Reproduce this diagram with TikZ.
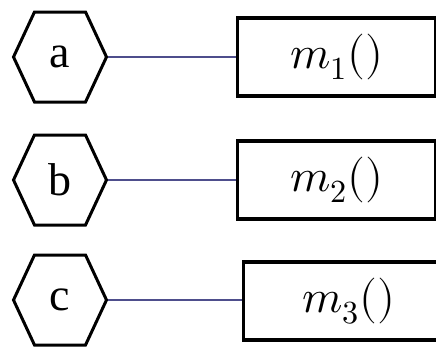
\documentclass[tikz,border=0pt]{standalone}
\usepackage{fontspec}
\usepackage{unicode-math}
\setmainfont{Liberation Serif}
\setmathfont{Latin Modern Math}
\usetikzlibrary{positioning,shapes.symbols}
\definecolor{linkblue}{RGB}{78,78,140}

\begin{document}
\begin{tikzpicture}[x=1pt,y=-1pt,node distance=128pt,
  hexa/.style={signal,signal to=east and west,signal pointer angle=130,
    draw,line width=3pt,minimum width=93pt,minimum height=90pt,inner sep=0pt,
    font=\fontsize{46}{52}\selectfont},
  method/.style={draw,line width=3.2pt,minimum width=198pt,minimum height=78pt,
    font=\fontsize{46}{52}\selectfont},
  link/.style={line width=1.5pt,draw=linkblue}]
  \useasboundingbox (0,0) rectangle (436,346);
  \clip (0,0) rectangle (436,346);

  \node[hexa] (a) at (60,57) {a};
  \node[hexa] (b) at (60,180) {b};
  \node[hexa] (c) at (60,300) {c};

  \node[method,right=of a] (m1) {$m_1()$};
  \node[method,right=of b] (m2) {$m_2()$};
  \node[method,minimum width=210pt,right=134pt of c,yshift=-1pt] (m3) {$m_3()$};

  \draw[link] (a.east) -- (m1.west);
  \draw[link] (b.east) -- (m2.west);
  \draw[link] (c.east) -- (c.east -| m3.west);
\end{tikzpicture}
\end{document}
